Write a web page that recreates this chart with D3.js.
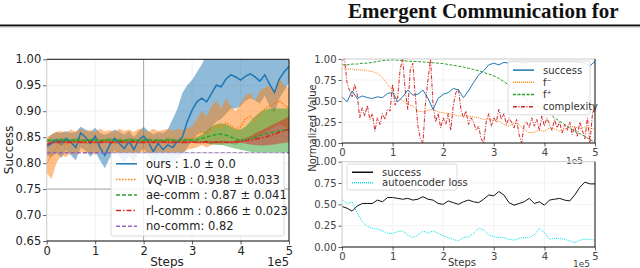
<!DOCTYPE html>
<html>
<head>
<meta charset="utf-8">
<script src="https://cdn.jsdelivr.net/npm/d3@7"></script>
<style>
  body { margin: 0; background: #fff; }
  svg { display: block; font-family: "DejaVu Sans", sans-serif; }
</style>
</head>
<body>
<div id="chart"></div>
<script>
var svgWidth = 640;
var svgHeight = 268;

// ---- data: left panel (steps in 1e5) ----
var steps = d3.range(0, 5.001, 0.1);

var oursMean = [0.832,0.838,0.845,0.836,0.848,0.840,0.830,0.858,0.850,0.838,0.852,0.830,0.815,0.835,0.848,0.838,0.828,0.842,0.826,0.845,0.852,0.840,0.822,0.838,0.826,0.835,0.830,0.842,0.850,0.880,0.902,0.918,0.925,0.918,0.934,0.950,0.947,0.962,0.970,0.966,0.960,0.967,0.972,0.966,0.958,0.970,0.952,0.936,0.962,0.976,0.986];
var oursHi = [0.845,0.855,0.860,0.858,0.862,0.858,0.860,0.870,0.865,0.860,0.868,0.858,0.855,0.858,0.865,0.860,0.855,0.862,0.850,0.862,0.870,0.862,0.855,0.860,0.858,0.865,0.885,0.905,0.935,0.950,0.960,0.975,0.990,1.01,1.01,1.01,1.01,1.01,1.01,1.01,1.01,1.01,1.01,1.01,1.01,1.01,1.01,1.01,1.01,1.01,1.01];
var oursLo = [0.815,0.812,0.820,0.810,0.825,0.815,0.805,0.830,0.825,0.812,0.822,0.805,0.790,0.810,0.825,0.812,0.800,0.815,0.800,0.820,0.828,0.815,0.795,0.810,0.795,0.805,0.800,0.810,0.815,0.830,0.845,0.855,0.860,0.855,0.868,0.880,0.885,0.895,0.905,0.905,0.910,0.920,0.925,0.920,0.915,0.930,0.910,0.895,0.925,0.940,0.955];

var vqMean = [0.800,0.815,0.830,0.838,0.835,0.842,0.838,0.845,0.840,0.843,0.838,0.845,0.840,0.843,0.838,0.845,0.840,0.843,0.838,0.845,0.842,0.838,0.845,0.840,0.843,0.845,0.840,0.845,0.842,0.848,0.845,0.855,0.860,0.858,0.865,0.872,0.868,0.878,0.872,0.865,0.870,0.885,0.890,0.882,0.895,0.905,0.910,0.915,0.920,0.912,0.905];
var vqHi = [0.850,0.855,0.860,0.862,0.858,0.865,0.860,0.866,0.862,0.864,0.860,0.866,0.861,0.864,0.860,0.866,0.862,0.865,0.860,0.866,0.864,0.860,0.866,0.862,0.864,0.866,0.862,0.866,0.864,0.868,0.870,0.885,0.900,0.890,0.910,0.920,0.905,0.925,0.910,0.900,0.915,0.930,0.935,0.920,0.940,0.945,0.950,0.940,0.965,0.950,0.945];
var vqLo = [0.780,0.770,0.800,0.815,0.812,0.820,0.816,0.822,0.818,0.821,0.816,0.822,0.818,0.821,0.816,0.822,0.818,0.821,0.816,0.822,0.820,0.816,0.822,0.818,0.821,0.822,0.818,0.823,0.820,0.826,0.828,0.830,0.835,0.830,0.835,0.840,0.835,0.840,0.838,0.835,0.840,0.845,0.850,0.845,0.855,0.860,0.865,0.870,0.875,0.870,0.865];

var aeMean = [0.843,0.844,0.843,0.845,0.844,0.843,0.845,0.844,0.843,0.844,0.845,0.843,0.844,0.845,0.843,0.844,0.843,0.845,0.844,0.843,0.844,0.845,0.843,0.844,0.843,0.845,0.844,0.843,0.844,0.845,0.844,0.845,0.848,0.850,0.853,0.855,0.856,0.854,0.850,0.846,0.845,0.845,0.847,0.850,0.853,0.856,0.858,0.860,0.862,0.864,0.866];
var aeHi = [0.846,0.847,0.846,0.848,0.847,0.846,0.848,0.847,0.846,0.847,0.848,0.846,0.847,0.848,0.846,0.847,0.846,0.848,0.847,0.846,0.847,0.848,0.846,0.847,0.846,0.848,0.847,0.846,0.847,0.848,0.847,0.850,0.855,0.862,0.870,0.875,0.877,0.875,0.870,0.865,0.865,0.870,0.880,0.890,0.898,0.903,0.905,0.905,0.905,0.905,0.905];
var aeLo = [0.840,0.841,0.840,0.842,0.841,0.840,0.842,0.841,0.840,0.841,0.842,0.840,0.841,0.842,0.840,0.841,0.840,0.842,0.841,0.840,0.841,0.842,0.840,0.841,0.840,0.842,0.841,0.840,0.841,0.842,0.841,0.840,0.840,0.838,0.836,0.835,0.835,0.833,0.830,0.828,0.826,0.824,0.822,0.821,0.820,0.820,0.820,0.820,0.820,0.820,0.822];

var rlMean = [0.835,0.840,0.840,0.841,0.840,0.840,0.841,0.840,0.840,0.841,0.840,0.840,0.841,0.840,0.840,0.841,0.840,0.840,0.841,0.840,0.840,0.841,0.840,0.840,0.841,0.840,0.840,0.841,0.840,0.840,0.841,0.840,0.840,0.841,0.840,0.840,0.841,0.840,0.840,0.841,0.842,0.843,0.844,0.846,0.848,0.850,0.853,0.856,0.859,0.862,0.865];
var rlHi = [0.838,0.842,0.842,0.843,0.842,0.842,0.843,0.842,0.842,0.843,0.842,0.842,0.843,0.842,0.842,0.843,0.842,0.842,0.843,0.842,0.842,0.843,0.842,0.842,0.843,0.842,0.842,0.843,0.842,0.842,0.843,0.842,0.842,0.843,0.842,0.842,0.843,0.842,0.842,0.843,0.845,0.848,0.852,0.857,0.862,0.866,0.871,0.876,0.880,0.885,0.890];
var rlLo = [0.832,0.838,0.838,0.839,0.838,0.838,0.839,0.838,0.838,0.839,0.838,0.838,0.839,0.838,0.838,0.839,0.838,0.838,0.839,0.838,0.838,0.839,0.838,0.838,0.839,0.838,0.838,0.839,0.838,0.838,0.839,0.838,0.838,0.839,0.838,0.838,0.839,0.838,0.838,0.839,0.839,0.838,0.836,0.835,0.834,0.834,0.835,0.836,0.838,0.839,0.840];

var noComm = 0.82;

var leftLabels = ["ours : 1.0 \u00b1 0.0", "VQ-VIB : 0.938 \u00b1 0.033", "ae-comm : 0.87 \u00b1 0.041", "rl-comm : 0.866 \u00b1 0.023", "no-comm: 0.82"];
var leftYTicks = [0.65, 0.70, 0.75, 0.80, 0.85, 0.90, 0.95, 1.00];
var xTicks = [0, 1, 2, 3, 4, 5];

// ---- data: right top panel ----
var rtSuccess = [0.55,0.49,0.62,0.53,0.56,0.54,0.53,0.55,0.54,0.59,0.60,0.49,0.55,0.63,0.57,0.58,0.63,0.53,0.40,0.53,0.58,0.60,0.65,0.63,0.54,0.62,0.72,0.81,0.86,0.93,0.95,0.93,0.96,0.95,0.97,0.96,0.95,0.97,0.96,0.97,0.96,0.97,0.96,0.97,0.97,0.96,0.97,0.96,0.95,0.92,0.97];
var rtFminus = [0.89,0.88,0.88,0.87,0.87,0.86,0.85,0.83,0.78,0.70,0.62,0.55,0.50,0.46,0.44,0.38,0.37,0.39,0.40,0.37,0.36,0.35,0.34,0.32,0.33,0.32,0.31,0.30,0.28,0.29,0.27,0.26,0.22,0.20,0.24,0.22,0.16,0.12,0.13,0.15,0.14,0.18,0.17,0.14,0.16,0.20,0.19,0.17,0.19,0.18,0.16];
var rtFplus = [0.93,0.93,0.94,0.94,0.95,0.95,0.96,0.97,0.98,0.985,0.99,0.985,0.98,0.975,0.97,0.97,0.965,0.96,0.955,0.95,0.945,0.935,0.925,0.915,0.905,0.89,0.875,0.86,0.84,0.82,0.80,0.77,0.73,0.69,0.64,0.59,0.55,0.50,0.46,0.43,0.40,0.35,0.30,0.26,0.22,0.18,0.14,0.11,0.08,0.04,0.01];
var cSteps = d3.range(0, 5.001, 0.05);
var rtComplexity = [0.98,1.00,0.72,0.62,0.55,0.70,0.58,0.30,0.42,0.32,0.45,0.28,0.35,0.14,0.30,0.22,0.35,0.28,0.40,0.38,0.70,0.45,0.55,0.88,1.00,0.62,0.40,0.88,0.95,0.55,0.20,0.05,0.00,0.48,0.75,1.00,0.45,0.25,0.35,0.18,0.30,0.22,0.35,0.15,0.45,0.60,0.65,0.40,0.30,0.38,0.22,0.30,0.25,0.15,0.20,0.05,0.00,0.25,0.35,0.20,0.30,0.25,0.40,0.28,0.35,0.22,0.30,0.25,0.18,0.28,0.10,0.00,0.22,0.25,0.18,0.30,0.20,0.28,0.15,0.32,0.20,0.30,0.22,0.15,0.28,0.18,0.25,0.12,0.22,0.15,0.25,0.10,0.20,0.08,0.25,0.15,0.05,0.30,0.00,0.35,0.45];
var rtLabels = ["success", "f\u207b", "f\u207a", "complexity"];

// ---- data: right bottom panel ----
var rbSuccess = [0.475,0.455,0.42,0.48,0.51,0.51,0.51,0.55,0.53,0.58,0.58,0.57,0.56,0.57,0.55,0.56,0.59,0.56,0.55,0.51,0.50,0.54,0.52,0.50,0.53,0.55,0.53,0.52,0.56,0.61,0.60,0.65,0.61,0.52,0.49,0.51,0.53,0.57,0.51,0.53,0.49,0.55,0.56,0.57,0.55,0.54,0.61,0.70,0.76,0.74,0.74];
var rbAeLoss = [0.56,0.51,0.53,0.40,0.30,0.24,0.22,0.21,0.19,0.16,0.16,0.18,0.19,0.14,0.11,0.14,0.19,0.16,0.19,0.16,0.13,0.11,0.09,0.07,0.11,0.12,0.16,0.22,0.20,0.14,0.12,0.11,0.11,0.09,0.08,0.10,0.11,0.11,0.14,0.22,0.17,0.09,0.10,0.10,0.09,0.07,0.05,0.08,0.09,0.09,0.08];
var rbLabels = ["success", "autoencoder loss"];
var rightYTicks = [0, 0.25, 0.5, 0.75, 1.0];

var svg = d3.select("#chart").append("svg")
  .attr("width", svgWidth)
  .attr("height", svgHeight);

// page header (paper title + rule)
svg.append("text")
  .attr("x", 348).attr("y", 18)
  .attr("font-family", "Liberation Serif, serif")
  .attr("font-weight", "bold")
  .attr("font-size", "21px")
  .attr("fill", "#111")
  .text("Emergent Communication for");
svg.append("rect").attr("x", 0).attr("y", 24.5).attr("width", svgWidth).attr("height", 2).attr("fill", "#111");
svg.append("rect").attr("x", 0).attr("y", 26.5).attr("width", svgWidth).attr("height", 1).attr("fill", "#bbb");

function drawAxes(g, x, y, yTicks, fontSize, color, gridColor) {
  var w = x.range()[1] - x.range()[0];
  var h = y.range()[0] - y.range()[1];
  // grid
  g.append("g").selectAll("line").data(xTicks).enter().append("line")
    .attr("x1", d => x(d)).attr("x2", d => x(d))
    .attr("y1", 0).attr("y2", h)
    .attr("stroke", gridColor).attr("stroke-width", 0.8);
  g.append("g").selectAll("line").data(yTicks).enter().append("line")
    .attr("x1", 0).attr("x2", w)
    .attr("y1", d => y(d)).attr("y2", d => y(d))
    .attr("stroke", gridColor).attr("stroke-width", 0.8);

  var bottomAxis = d3.axisBottom(x).tickValues(xTicks).tickFormat(d3.format("d")).tickSizeOuter(0).tickSize(3.5).tickPadding(2);
  var leftAxis = d3.axisLeft(y).tickValues(yTicks).tickFormat(d3.format(".2f")).tickSizeOuter(0).tickSize(3.5).tickPadding(2);

  var bx = g.append("g").attr("transform", `translate(0, ${h})`).call(bottomAxis);
  var ly = g.append("g").call(leftAxis);
  [bx, ly].forEach(function(a) {
    a.select(".domain").remove();
    a.selectAll("line").attr("stroke", "#333").attr("stroke-width", 0.8);
    a.selectAll("text").attr("fill", color).attr("font-size", fontSize)
      .attr("font-family", "DejaVu Sans, sans-serif");
  });
  return {w: w, h: h};
}

function drawFrame(g, w, h, leftColor, topColor) {
  g.append("line").attr("x1", 0).attr("x2", 0).attr("y1", 0).attr("y2", h).attr("stroke", leftColor).attr("stroke-width", 1);
  g.append("line").attr("x1", 0).attr("x2", w).attr("y1", 0).attr("y2", 0).attr("stroke", topColor).attr("stroke-width", 1);
  g.append("line").attr("x1", w).attr("x2", w).attr("y1", 0).attr("y2", h).attr("stroke", "#111").attr("stroke-width", 1);
  g.append("line").attr("x1", 0).attr("x2", w).attr("y1", h).attr("y2", h).attr("stroke", "#111").attr("stroke-width", 1);
}

function legend(g, x0, y0, w, rowH, items, fontSize) {
  var lg = g.append("g").attr("transform", `translate(${x0}, ${y0})`);
  lg.append("rect").attr("width", w).attr("height", rowH * items.length + 5)
    .attr("rx", 2).attr("fill", "#fff").attr("fill-opacity", 0.85)
    .attr("stroke", "#d0d0d0").attr("stroke-width", 0.8);
  items.forEach(function(it, i) {
    var cy = 3 + rowH * i + rowH / 2;
    lg.append("line").attr("x1", 5).attr("x2", 26).attr("y1", cy).attr("y2", cy)
      .attr("stroke", it.color).attr("stroke-width", 1.5).attr("stroke-dasharray", it.dash);
    lg.append("text").attr("x", 35).attr("y", cy).attr("dy", "0.36em")
      .attr("font-size", fontSize).attr("fill", it.text || "#222").text(it.label);
  });
}

// ================= left panel =================
var L = {left: 46.7, top: 59.3, right: 289, bottom: 241};
var xL = d3.scaleLinear().domain([0, 5]).range([0, L.right - L.left]);
var yL = d3.scaleLinear().domain([0.65, 1.0]).range([L.bottom - L.top, 0]);
var gL = svg.append("g").attr("transform", `translate(${L.left}, ${L.top})`);
var dimL = drawAxes(gL, xL, yL, leftYTicks, "11.5px", "#222", "#ececec");
// darker grid lines as they appear in the picture
gL.append("line").attr("x1", xL(2)).attr("x2", xL(2)).attr("y1", 0).attr("y2", dimL.h).attr("stroke", "#a8a8a8").attr("stroke-width", 1);
gL.append("line").attr("x1", 0).attr("x2", dimL.w).attr("y1", yL(0.75)).attr("y2", yL(0.75)).attr("stroke", "#a8a8a8").attr("stroke-width", 1);

gL.append("clipPath").attr("id", "clipL").append("rect").attr("width", dimL.w).attr("height", dimL.h);
var plotL = gL.append("g").attr("clip-path", "url(#clipL)");

var leftSeries = [
  {mean: oursMean, lo: oursLo, hi: oursHi, color: "#1f77b4", dash: null},
  {mean: vqMean, lo: vqLo, hi: vqHi, color: "#ff7f0e", dash: "1.5,1.5"},
  {mean: aeMean, lo: aeLo, hi: aeHi, color: "#2ca02c", dash: "4,2"},
  {mean: rlMean, lo: rlLo, hi: rlHi, color: "#d62728", dash: "5,2,1.5,2"}
];

leftSeries.forEach(function(s) {
  var area = d3.area()
    .x((d, i) => xL(steps[i]))
    .y0((d, i) => yL(s.lo[i]))
    .y1((d, i) => yL(s.hi[i]));
  plotL.append("path").datum(s.mean).attr("d", area)
    .attr("fill", s.color).attr("fill-opacity", 0.5).attr("stroke", "none");
});
leftSeries.forEach(function(s) {
  var line = d3.line().x((d, i) => xL(steps[i])).y(d => yL(d));
  plotL.append("path").datum(s.mean).attr("d", line)
    .attr("fill", "none").attr("stroke", s.color).attr("stroke-width", 1.5)
    .attr("stroke-dasharray", s.dash);
});
plotL.append("line").attr("x1", xL(0)).attr("x2", xL(5))
  .attr("y1", yL(noComm)).attr("y2", yL(noComm))
  .attr("stroke", "#9467bd").attr("stroke-width", 1.5).attr("stroke-dasharray", "4,2");

drawFrame(gL, dimL.w, dimL.h, "#cfcfcf", "#111");

legend(gL, 111 - L.left, 153 - L.top, 173, 15.6, [
  {label: leftLabels[0], color: "#1f77b4", dash: null},
  {label: leftLabels[1], color: "#ff7f0e", dash: "1.5,1.5"},
  {label: leftLabels[2], color: "#2ca02c", dash: "4,2"},
  {label: leftLabels[3], color: "#d62728", dash: "5,2,1.5,2"},
  {label: leftLabels[4], color: "#9467bd", dash: "4,2"}
], "11.5px");

svg.append("text").attr("transform", "rotate(-90)")
  .attr("x", -150).attr("y", 13).attr("text-anchor", "middle")
  .attr("font-size", "12px").attr("fill", "#222").text("Success");
svg.append("text").attr("x", 167).attr("y", 266).attr("text-anchor", "middle")
  .attr("font-size", "12px").attr("fill", "#222").text("Steps");
svg.append("text").attr("x", 289).attr("y", 266).attr("text-anchor", "end")
  .attr("font-size", "11.5px").attr("fill", "#222").text("1e5");

// ================= right top panel =================
var RT = {left: 342, top: 59, right: 595, bottom: 143};
var xR = d3.scaleLinear().domain([0, 5]).range([0, RT.right - RT.left]);
var yRT = d3.scaleLinear().domain([0, 1]).range([RT.bottom - RT.top, 0]);
var gRT = svg.append("g").attr("transform", `translate(${RT.left}, ${RT.top})`);
var dimRT = drawAxes(gRT, xR, yRT, rightYTicks, "10px", "#444", "#f0f0f0");

var lineRT = d3.line().x((d, i) => xR(steps[i])).y(d => yRT(d));
var lineC = d3.line().x((d, i) => xR(cSteps[i])).y(d => yRT(d));
gRT.append("path").datum(rtFminus).attr("d", lineRT).attr("fill", "none")
  .attr("stroke", "#ff7f0e").attr("stroke-width", 1).attr("stroke-dasharray", "1,1");
gRT.append("path").datum(rtFplus).attr("d", lineRT).attr("fill", "none")
  .attr("stroke", "#2ca02c").attr("stroke-width", 1).attr("stroke-dasharray", "3,1.5");
gRT.append("path").datum(rtComplexity).attr("d", lineC).attr("fill", "none")
  .attr("stroke", "#d62728").attr("stroke-width", 1).attr("stroke-dasharray", "4,1.5,1,1.5");
gRT.append("path").datum(rtSuccess).attr("d", lineRT).attr("fill", "none")
  .attr("stroke", "#1f77b4").attr("stroke-width", 1);
drawFrame(gRT, dimRT.w, dimRT.h, "#d0d0d0", "#d0d0d0");

legend(gRT, 508 - RT.left, 61 - RT.top, 82, 12.2, [
  {label: rtLabels[0], color: "#1f77b4", dash: null, text: "#333"},
  {label: rtLabels[1], color: "#ff7f0e", dash: "1,1", text: "#333"},
  {label: rtLabels[2], color: "#2ca02c", dash: "3,1.5", text: "#333"},
  {label: rtLabels[3], color: "#d62728", dash: "4,1.5,1,1.5", text: "#333"}
], "10px");

svg.append("text").attr("x", 583).attr("y", 164).attr("text-anchor", "end")
  .attr("font-size", "9px").attr("fill", "#444").text("1e5");

// ================= right bottom panel =================
var RB = {left: 342, top: 161.7, right: 595, bottom: 247};
var yRB = d3.scaleLinear().domain([0, 1]).range([RB.bottom - RB.top, 0]);
var gRB = svg.append("g").attr("transform", `translate(${RB.left}, ${RB.top})`);
var dimRB = drawAxes(gRB, xR, yRB, rightYTicks, "10px", "#444", "#f0f0f0");

var lineRB = d3.line().x((d, i) => xR(steps[i])).y(d => yRB(d));
gRB.append("path").datum(rbAeLoss).attr("d", lineRB).attr("fill", "none")
  .attr("stroke", "#00e5ee").attr("stroke-width", 1).attr("stroke-dasharray", "1,1");
gRB.append("path").datum(rbSuccess).attr("d", lineRB).attr("fill", "none")
  .attr("stroke", "#111").attr("stroke-width", 1);
drawFrame(gRB, dimRB.w, dimRB.h, "#d0d0d0", "#d0d0d0");

legend(gRB, 347 - RB.left, 164 - RB.top, 110, 10.5, [
  {label: rbLabels[0], color: "#111", dash: null, text: "#333"},
  {label: rbLabels[1], color: "#00e5ee", dash: "1,1", text: "#333"}
], "10px");

svg.append("text").attr("transform", "rotate(-90)")
  .attr("x", -128).attr("y", 316).attr("text-anchor", "middle")
  .attr("font-size", "10px").attr("fill", "#333").text("Normalized Value");
svg.append("text").attr("x", 462).attr("y", 266).attr("text-anchor", "middle")
  .attr("font-size", "10px").attr("fill", "#333").text("Steps");
svg.append("text").attr("x", 590).attr("y", 267).attr("text-anchor", "end")
  .attr("font-size", "9px").attr("fill", "#444").text("1e5");
</script>
</body>
</html>
